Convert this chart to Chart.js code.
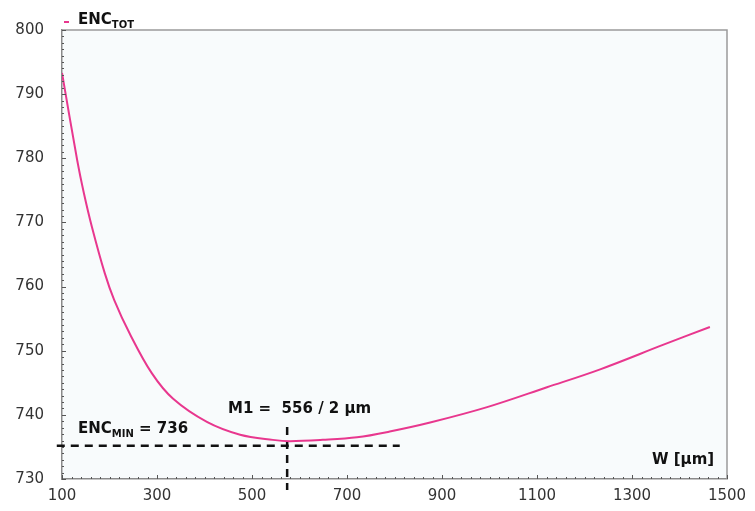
<!DOCTYPE html>
<html lang="en">
<head>
    <meta charset="UTF-8">
    <title>ENC tot vs W</title>
    <script src="https://cdn.jsdelivr.net/npm/chart.js"></script>
    <style>
        body {
            margin: 0;
            background-color: #ffffff;
        }
    </style>
</head>
<body>
    <canvas id="encChart" width="755" height="511"></canvas>
    <script>
        // W [um] and total ENC
        const widths = [100, 132, 146, 163, 190, 210, 243, 289, 334, 405, 475, 544, 580, 649, 721, 790, 875, 995, 1121, 1233, 1365, 1464];
        const encTot = [793.3, 779.7, 774.6, 769.3, 762.1, 757.9, 752.6, 746.5, 742.5, 738.9, 736.9, 736.1, 735.9, 736.1, 736.5, 737.4, 738.8, 741.2, 744.3, 747.1, 750.9, 753.7];

        // optimum marker lines
        const minLineW = [89, 811];
        const minLineEnc = [735.2, 735.2];
        const optW = [574, 574];
        const optLineEnc = [738.1, 728.3];

        const xTicks = [100, 300, 500, 700, 900, 1100, 1300, 1500];
        const yTicks = [730, 740, 750, 760, 770, 780, 790, 800];

        const pink = '#e8378e';
        const boldFont = 'bold 15px "DejaVu Sans", sans-serif';

        function toPoints(xs, ys) {
            return xs.map((x, i) => ({ x: x, y: ys[i] }));
        }

        // draws text with a subscript part
        function subText(ctx, x, y, main, sub, rest) {
            ctx.font = 'bold 15px "DejaVu Sans", sans-serif';
            ctx.fillText(main, x, y);
            x += ctx.measureText(main).width;
            ctx.font = 'bold 10px "DejaVu Sans", sans-serif';
            ctx.fillText(sub, x, y + 4);
            x += ctx.measureText(sub).width;
            if (rest) {
                ctx.font = 'bold 15px "DejaVu Sans", sans-serif';
                ctx.fillText(rest, x, y);
            }
        }

        const framePlugin = {
            id: 'frame',
            beforeDraw(chart) {
                const { ctx, chartArea: a } = chart;
                ctx.save();
                ctx.fillStyle = '#f8fbfc';
                ctx.fillRect(a.left, a.top, a.right - a.left, a.bottom - a.top);
                ctx.restore();
            },
            afterDraw(chart) {
                const { ctx, chartArea: a, scales } = chart;
                ctx.save();
                // top + right border
                ctx.strokeStyle = '#9a9a9a';
                ctx.lineWidth = 1.5;
                ctx.beginPath();
                ctx.moveTo(a.left, a.top);
                ctx.lineTo(a.right, a.top);
                ctx.lineTo(a.right, a.bottom);
                ctx.stroke();

                // minor / major ticks on axes
                ctx.strokeStyle = '#555';
                ctx.lineWidth = 1;
                for (let v = 730; v <= 800; v += 1) {
                    const y = Math.round(scales.y.getPixelForValue(v)) + 0.5;
                    const len = v % 10 === 0 ? 4 : 2;
                    ctx.beginPath();
                    ctx.moveTo(a.left, y);
                    ctx.lineTo(a.left + len, y);
                    ctx.stroke();
                }
                for (let v = 100; v <= 1500; v += 20) {
                    const x = Math.round(scales.x.getPixelForValue(v)) + 0.5;
                    const len = (v - 100) % 200 === 0 ? 4 : 2;
                    ctx.beginPath();
                    ctx.moveTo(x, a.bottom);
                    ctx.lineTo(x, a.bottom - len);
                    ctx.stroke();
                }

                // legend
                ctx.strokeStyle = pink;
                ctx.lineWidth = 2;
                ctx.beginPath();
                ctx.moveTo(64, 22);
                ctx.lineTo(69, 22);
                ctx.stroke();
                ctx.fillStyle = '#111';
                ctx.textBaseline = 'alphabetic';
                subText(ctx, 78, 24, 'ENC', 'TOT');

                // annotations
                subText(ctx, 78, 433, 'ENC', 'MIN', ' = 736');
                ctx.font = boldFont;
                ctx.fillText('M1 =  556 / 2 µm', 228, 413);
                ctx.fillText('W [µm]', 652, 464);
                ctx.restore();
            }
        };

        new Chart(document.getElementById('encChart'), {
            type: 'line',
            data: {
                datasets: [
                    {
                        label: 'ENC TOT',
                        data: toPoints(widths, encTot),
                        borderColor: pink,
                        borderWidth: 2,
                        pointRadius: 0,
                        tension: 0.35,
                        fill: false
                    },
                    {
                        label: 'ENC min',
                        data: toPoints(minLineW, minLineEnc),
                        borderColor: '#111',
                        borderWidth: 2.5,
                        borderDash: [8, 6],
                        pointRadius: 0,
                        clip: false
                    },
                    {
                        label: 'W opt',
                        data: toPoints(optW, optLineEnc),
                        borderColor: '#111',
                        borderWidth: 2.5,
                        borderDash: [8, 6],
                        pointRadius: 0,
                        clip: false
                    }
                ]
            },
            options: {
                responsive: false,
                animation: false,
                devicePixelRatio: 1,
                layout: {
                    padding: { top: 30, right: 28, left: 0, bottom: 0 }
                },
                plugins: {
                    legend: { display: false },
                    tooltip: { enabled: false }
                },
                scales: {
                    x: {
                        type: 'linear',
                        min: 100,
                        max: 1500,
                        afterBuildTicks: (scale) => {
                            scale.ticks = xTicks.map(v => ({ value: v }));
                        },
                        afterFit: (scale) => { scale.height = 32; },
                        grid: { display: false, drawTicks: false },
                        border: { display: true, color: '#8a8a8a', width: 1.5 },
                        ticks: {
                            padding: 8,
                            maxRotation: 0,
                            autoSkip: false,
                            color: '#333',
                            callback: (v) => String(v),
                            font: { family: '"DejaVu Sans", sans-serif', size: 15 }
                        }
                    },
                    y: {
                        type: 'linear',
                        min: 730,
                        max: 800,
                        afterBuildTicks: (scale) => {
                            scale.ticks = yTicks.map(v => ({ value: v }));
                        },
                        afterFit: (scale) => { scale.width = 62; },
                        grid: { display: false, drawTicks: false },
                        border: { display: true, color: '#8a8a8a', width: 1.5 },
                        ticks: {
                            padding: 18,
                            autoSkip: false,
                            color: '#333',
                            callback: (v) => String(v),
                            font: { family: '"DejaVu Sans", sans-serif', size: 15 }
                        }
                    }
                }
            },
            plugins: [framePlugin]
        });
    </script>
</body>
</html>
